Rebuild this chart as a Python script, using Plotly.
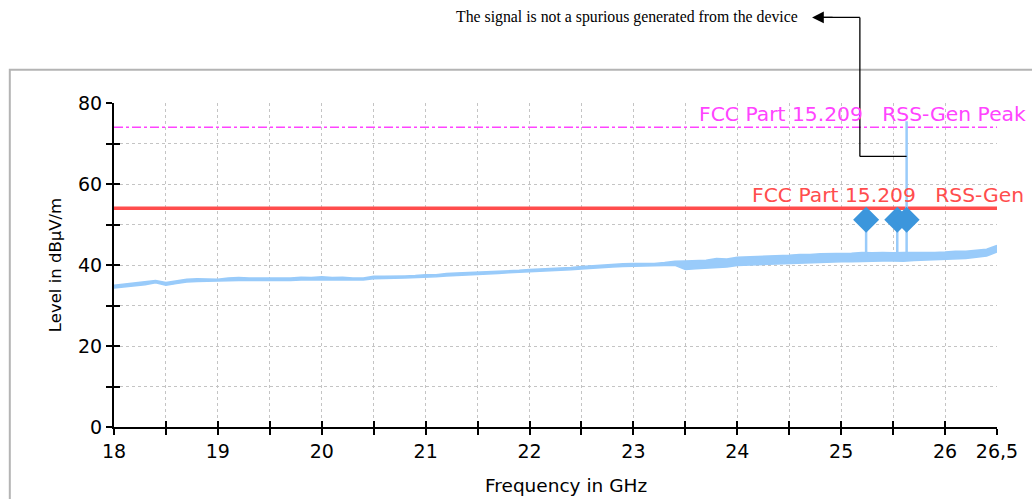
import plotly.graph_objects as go

# Frequency axis of the scan (GHz), 0.1 GHz steps
freq = [round(18.0 + 0.1 * i, 1) for i in range(86)]

# Lower / upper edge of the measured noise-floor trace (dBµV/m)
level_lo = [
    34.3, 34.6, 34.9, 35.1, 35.6, 35.0, 35.4, 35.8, 35.9, 36.0,
    36.0, 36.2, 36.2, 36.2, 36.2, 36.1, 36.2, 36.2, 36.3, 36.3,
    36.3, 36.2, 36.2, 36.2, 36.3, 36.6, 36.6, 36.7, 36.8, 36.9,
    36.9, 37.1, 37.3, 37.4, 37.5, 37.7, 37.8, 37.9, 38.1, 38.2,
    38.3, 38.4, 38.6, 38.7, 38.8, 39.0, 39.2, 39.4, 39.5, 39.6,
    39.7, 39.7, 39.8, 39.9, 39.9, 38.9, 39.1, 39.2, 39.3, 39.5,
    39.9, 40.0, 40.1, 40.1, 40.2, 40.4, 40.5, 40.6, 40.7, 40.7,
    40.8, 40.8, 40.9, 40.9, 41.0, 41.0, 40.9, 41.1, 41.2, 41.2,
    41.3, 41.4, 41.6, 41.9, 42.2, 43.2,
]
level_hi = [
    35.0, 35.3, 35.5, 35.9, 36.2, 35.7, 36.1, 36.5, 36.6, 36.6,
    36.5, 36.8, 36.9, 36.8, 36.8, 36.7, 36.8, 36.8, 37.0, 36.9,
    37.1, 36.9, 37.0, 36.8, 36.8, 37.2, 37.2, 37.2, 37.3, 37.4,
    37.6, 37.6, 37.9, 38.0, 38.1, 38.2, 38.3, 38.4, 38.6, 38.7,
    38.9, 39.0, 39.1, 39.2, 39.4, 39.6, 39.8, 40.0, 40.2, 40.3,
    40.4, 40.4, 40.4, 40.6, 40.9, 41.0, 41.1, 41.2, 41.6, 41.5,
    41.9, 42.0, 42.0, 42.1, 42.2, 42.4, 42.6, 42.6, 42.8, 42.8,
    42.9, 42.9, 43.1, 43.0, 43.1, 43.0, 43.1, 43.1, 43.0, 43.1,
    43.2, 43.4, 43.4, 43.6, 43.9, 44.8,
]

# Narrow spikes in the trace
spike_freq = [25.24, 25.54, 25.63]
spike_base = [42.0, 42.0, 41.5]
spike_peak = [51.0, 51.0, 75.5]

# Peak markers
marker_freq = [25.24, 25.54, 25.63]
marker_level = [51.2, 51.2, 51.2]

# Limit lines
limit_freq = [18.0, 26.5]
limit_avg = [54, 54]
limit_peak = [74, 74]

# Tick labels
x_tick_vals = [18 + 0.5 * i for i in range(18)]
x_tick_text = ["18", "", "19", "", "20", "", "21", "", "22", "", "23", "",
               "24", "", "25", "", "26", "26,5"]
y_tick_vals = [0, 10, 20, 30, 40, 50, 60, 70, 80]
y_tick_text = ["0", "", "20", "", "40", "", "60", "", "80"]

TRACE = "#99cbfa"
RED = "#ff4d4d"
MAGENTA = "#ff44ff"
FONT = "DejaVu Sans"

fig = go.Figure()

fig.add_trace(go.Scatter(x=limit_freq, y=limit_peak, mode="lines",
                         line=dict(color=MAGENTA, width=1.5, dash="dashdot"),
                         hoverinfo="skip", showlegend=False))
fig.add_trace(go.Scatter(x=limit_freq, y=limit_avg, mode="lines",
                         line=dict(color=RED, width=3.5),
                         hoverinfo="skip", showlegend=False))

# noise band
fig.add_trace(go.Scatter(x=freq, y=level_hi, mode="lines",
                         line=dict(color=TRACE, width=1.5),
                         hoverinfo="skip", showlegend=False))
fig.add_trace(go.Scatter(x=freq, y=level_lo, mode="lines", fill="tonexty",
                         fillcolor=TRACE, line=dict(color=TRACE, width=1.5),
                         hoverinfo="skip", showlegend=False))

sx, sy = [], []
for f, b, p in zip(spike_freq, spike_base, spike_peak):
    sx += [f, f, None]
    sy += [b, p, None]
fig.add_trace(go.Scatter(x=sx, y=sy, mode="lines",
                         line=dict(color=TRACE, width=2.5),
                         hoverinfo="skip", showlegend=False))

fig.add_trace(go.Scatter(x=marker_freq, y=marker_level, mode="markers",
                         marker=dict(symbol="diamond", size=20, color="#3c96dc"),
                         hoverinfo="skip", showlegend=False))

# companion axes so that ticks cross the axis lines
fig.add_trace(go.Scatter(x=[18], y=[0], xaxis="x2", yaxis="y2", mode="markers",
                         marker=dict(opacity=0), hoverinfo="skip", showlegend=False))

tickfont = dict(family=FONT, size=19, color="black")
fig.update_layout(
    width=1032, height=499,
    margin=dict(l=114, r=35, t=103, b=72),
    paper_bgcolor="white", plot_bgcolor="white",
    xaxis=dict(range=[18, 26.5], tickmode="array", tickvals=x_tick_vals,
               ticktext=x_tick_text, ticks="outside", ticklen=6, tickwidth=2,
               tickcolor="black", showline=True, linecolor="black", linewidth=2,
               showgrid=True, gridcolor="#c4c4c4", griddash="dot", gridwidth=1,
               zeroline=False, tickfont=tickfont),
    yaxis=dict(range=[0, 80], tickmode="array", tickvals=y_tick_vals,
               ticktext=y_tick_text, ticks="outside", ticklen=6, tickwidth=2,
               tickcolor="black", showline=True, linecolor="black", linewidth=2,
               showgrid=True, gridcolor="#c4c4c4", griddash="dot", gridwidth=1,
               zeroline=False, tickfont=tickfont,
               title=dict(text="Level in dBµV/m",
                          font=dict(family=FONT, size=16.5, color="black"),
                          standoff=12)),
    xaxis2=dict(range=[18, 26.5], overlaying="x", anchor="y2", side="bottom",
                tickmode="array", tickvals=x_tick_vals, ticks="inside",
                ticklen=6, tickwidth=2, tickcolor="black",
                showticklabels=False, showgrid=False, showline=False,
                zeroline=False),
    yaxis2=dict(range=[0, 80], overlaying="y", anchor="x2", side="left",
                tickmode="array", tickvals=y_tick_vals, ticks="inside",
                ticklen=6, tickwidth=2, tickcolor="black",
                showticklabels=False, showgrid=False, showline=False,
                zeroline=False),
)

# outer frame
fig.add_shape(type="rect", xref="paper", yref="paper",
              x0=-0.118, x1=1.2, y0=-0.4, y1=1.103,
              line=dict(color="#b4b4b4", width=2), layer="below")

# x axis title
fig.add_annotation(text="Frequency in GHz", xref="paper", yref="paper",
                   x=0.512, y=-0.181, yanchor="middle", showarrow=False,
                   font=dict(family=FONT, size=18.5, color="black"))

# limit labels
fig.add_annotation(text="FCC Part 15.209\u00a0\u00a0\u00a0RSS-Gen Peak",
                   x=23.61, y=77.4, xanchor="left", yanchor="middle",
                   showarrow=False, font=dict(family=FONT, size=20.3, color=MAGENTA))
fig.add_annotation(text="FCC Part 15.209\u00a0\u00a0\u00a0RSS-Gen",
                   x=24.12, y=57.3, xanchor="left", yanchor="middle",
                   showarrow=False, font=dict(family=FONT, size=20.3, color=RED))

# comment callout for the spike at 25.63 GHz
y_elbow = 66.8 / 80
y_top = 1.264
x_bend = 25.18
fig.add_shape(type="line", xref="x", yref="paper", x0=spike_freq[2], x1=x_bend,
              y0=y_elbow, y1=y_elbow, line=dict(color="black", width=1.3))
fig.add_shape(type="line", xref="x", yref="paper", x0=x_bend, x1=x_bend,
              y0=y_elbow, y1=y_top, line=dict(color="black", width=1.3))
fig.add_shape(type="line", xref="x", yref="paper", x0=x_bend, x1=24.8,
              y0=y_top, y1=y_top, line=dict(color="black", width=1.3))
fig.add_annotation(text="", x=24.72, y=y_top, xref="x", yref="paper",
                   showarrow=True, ax=22, ay=0, arrowhead=2, arrowsize=1.8,
                   arrowwidth=1.3, arrowcolor="black")
fig.add_annotation(text="The signal is not a spurious generated from the device",
                   x=24.6, y=y_top, xref="x", yref="paper", xanchor="right",
                   yanchor="middle", showarrow=False,
                   font=dict(family="Liberation Serif", size=15.8, color="black"))

fig.write_html("out.html")
